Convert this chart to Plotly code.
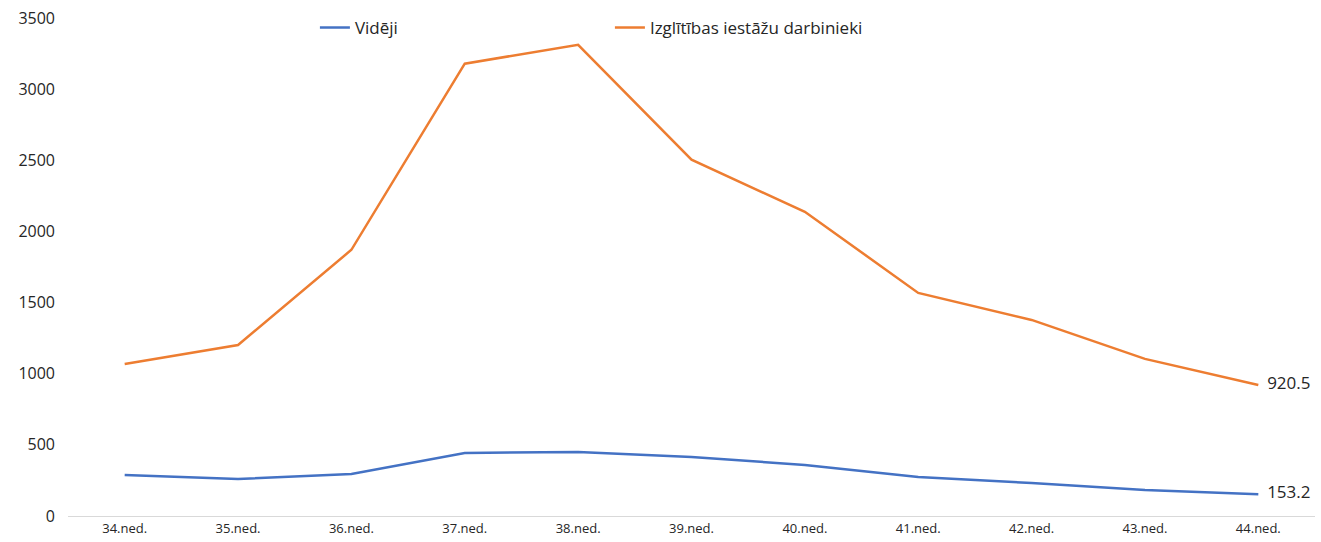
import plotly.graph_objects as go

categories = ["34.ned.", "35.ned.", "36.ned.", "37.ned.", "38.ned.", "39.ned.",
              "40.ned.", "41.ned.", "42.ned.", "43.ned.", "44.ned."]
videji = [288, 260, 295, 443, 450, 415, 359, 274, 232, 183, 153.2]
izglitibas = [1069, 1202, 1871, 3179, 3312, 2504, 2138, 1568, 1378, 1104, 920.5]

name_videji = "Vidēji"
name_izgl = "Izglītības iestāžu darbinieki"

def end_labels(vals):
    return [""] * (len(vals) - 1) + [f"  {vals[-1]:.1f}"]

fig = go.Figure()
fig.add_trace(go.Scatter(
    x=categories, y=videji, name=name_videji, mode="lines+text",
    line=dict(color="#4472C4", width=2.5),
    text=end_labels(videji), textposition="middle right",
    textfont=dict(size=17, color="#262626"), cliponaxis=False))
fig.add_trace(go.Scatter(
    x=categories, y=izglitibas, name=name_izgl, mode="lines+text",
    line=dict(color="#ED7D31", width=2.5),
    text=end_labels(izglitibas), textposition="middle right",
    textfont=dict(size=17, color="#262626"), cliponaxis=False))

fig.update_layout(
    width=1321, height=542,
    margin=dict(l=68, r=6, t=18, b=26, autoexpand=False),
    paper_bgcolor="white", plot_bgcolor="white",
    font=dict(family="Open Sans, Liberation Sans, sans-serif", color="#262626"),
    showlegend=True,
    legend=dict(orientation="h", x=0.198, xanchor="left", y=0.98, yanchor="middle",
                font=dict(size=17, color="#262626"),
                entrywidth=250, entrywidthmode="pixels",
                bgcolor="rgba(0,0,0,0)"),
    xaxis=dict(showgrid=False, showline=True, linecolor="#D9D9D9", linewidth=1,
               ticks="", tickfont=dict(size=13, color="#262626"),
               range=[-0.5, 10.5], fixedrange=True, automargin=False),
    yaxis=dict(range=[0, 3500], dtick=500, showgrid=False, zeroline=False,
               showline=False, ticks="", tickfont=dict(size=16, color="#262626"),
               ticklabelstandoff=12, automargin=False),
)

fig.write_html(
    "out.html",
    config={"displayModeBar": False},
    post_script="document.body.style.margin='0px';document.body.style.overflow='hidden';",
)
